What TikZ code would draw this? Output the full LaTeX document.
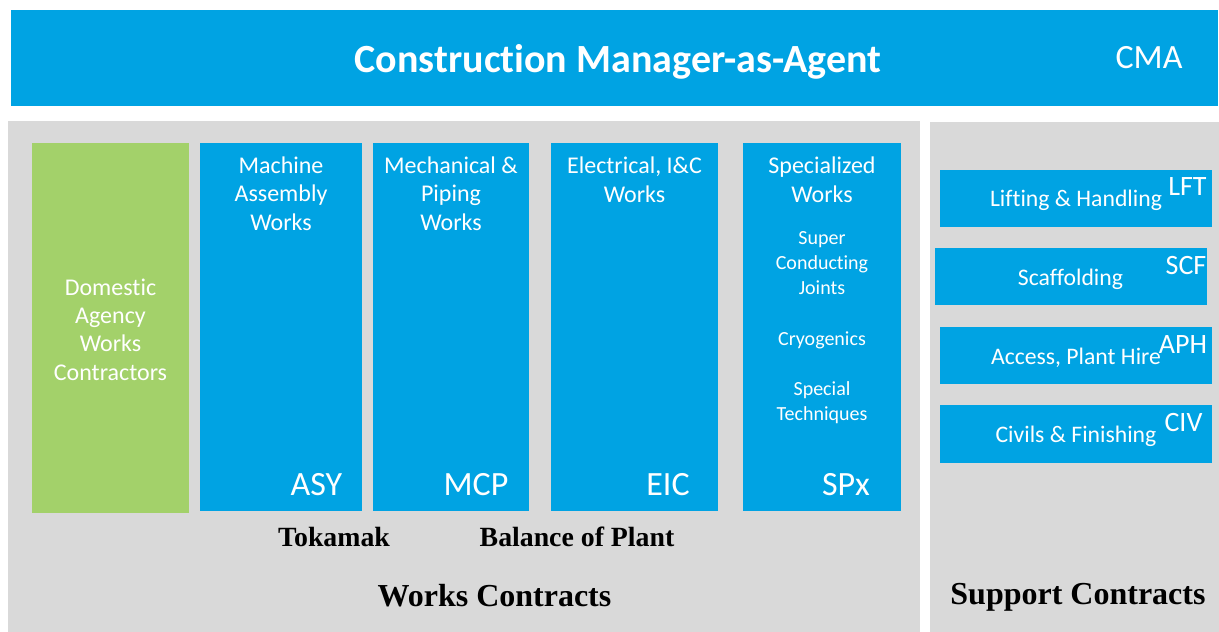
\documentclass[tikz,border=0pt]{standalone}
\usepackage{fontspec}
\setmainfont{Carlito}[Ligatures=CommonOff]
\newfontfamily\tnr{Liberation Serif}
\definecolor{cblue}{RGB}{0,163,227}
\definecolor{cgreen}{RGB}{163,209,106}
\definecolor{cgray}{RGB}{217,217,217}
\begin{document}
\begin{tikzpicture}[x=1pt,y=-1pt,
  panel/.style={fill=cgray,draw=none},
  bluebox/.style={fill=cblue,draw=none},
  greenbox/.style={fill=cgreen,draw=none},
  coltext/.style={text=white,anchor=base,align=center,inner sep=0pt,font=\fontsize{24}{28.3}\selectfont},
  smalltext/.style={text=white,anchor=base,align=center,inner sep=0pt,font=\fontsize{20}{25}\selectfont},
  codetext/.style={text=white,anchor=base,inner sep=0pt,font=\fontsize{34}{40}\selectfont},
  suptext/.style={text=white,anchor=base,inner sep=0pt,font=\fontsize{23.7}{28}\selectfont},
  supcode/.style={text=white,anchor=base,inner sep=0pt,font=\fontsize{28}{32}\selectfont},
  serifbold/.style={text=black,anchor=base,inner sep=0pt,font=\tnr\bfseries\fontsize{27.8}{32}\selectfont},
  serifbig/.style={text=black,anchor=base,inner sep=0pt,font=\tnr\bfseries\fontsize{32}{36}\selectfont}]
\useasboundingbox (0,0) rectangle (1219,632);
\fill[white] (0,0) rectangle (1219,632);
% top bar
\fill[bluebox] (11,10) rectangle (1218,105.7);
\node[text=white,anchor=base,inner sep=0pt,font=\bfseries\fontsize{40}{46}\selectfont] (title) at (618,72) {Construction Manager-as-Agent};
\node[text=white,anchor=base,inner sep=0pt,font=\fontsize{34}{40}\selectfont] (cma) at (1149,68) {CMA};
% panels
\fill[panel] (8,121) rectangle (920,632);
\fill[panel] (930,122) rectangle (1219,632);
% columns
\fill[greenbox] (32,143) rectangle (189,513);
\fill[bluebox] (200,143) rectangle (362,511);
\fill[bluebox] (373,143) rectangle (529,511);
\fill[bluebox] (551,143) rectangle (718,511);
\fill[bluebox] (743,143) rectangle (901,511);
\node[coltext] (dom) at (110.5,380) {Domestic\\Agency\\Works\\Contractors};
\node[coltext] (asyt) at (281,230) {Machine\\Assembly\\Works};
\node[coltext] (mcpt) at (451,230) {Mechanical \&\\Piping\\Works};
\node[coltext] (eict) at (634.5,202) {Electrical, I\&C\\Works};
\node[coltext] (spxt) at (822,202) {Specialized\\Works};
\node[smalltext] (scj) at (822,294) {Super\\Conducting\\Joints};
\node[smalltext] (cry) at (822,345) {Cryogenics};
\node[smalltext] (spt) at (822,420) {Special\\Techniques};
\node[codetext] (asy) at (316.5,495) {ASY};
\node[codetext] (mcp) at (476,495) {MCP};
\node[codetext] (eic) at (668,495) {EIC};
\node[codetext] (spx) at (846,495) {SPx};
% support boxes
\fill[bluebox] (940,170) rectangle (1212,226.7);
\fill[bluebox] (935,247.7) rectangle (1207,304.7);
\fill[bluebox] (940,327) rectangle (1212,383.7);
\fill[bluebox] (940,405) rectangle (1212,462.7);
\node[suptext] (lh) at (1076,206.7) {Lifting \& Handling};
\node[supcode] (lft) at (1187.5,195) {LFT};
\node[suptext] (sc) at (1070.5,285) {Scaffolding};
\node[supcode] (scf) at (1186,274) {SCF};
\node[suptext] (ap) at (1076,364) {Access, Plant Hire};
\node[supcode] (aph) at (1183,353.3) {APH};
\node[suptext] (cf) at (1076,442.3) {Civils \& Finishing};
\node[supcode] (civ) at (1183.5,431.7) {CIV};
% labels
\node[serifbold] (tok) at (334,546.7) {Tokamak};
\node[serifbold] (bop) at (577,546.7) {Balance of Plant};
\node[serifbig] (wc) at (494.5,606) {Works Contracts};
\node[serifbig] (spc) at (1078,604) {Support Contracts};
\end{tikzpicture}
\end{document}
